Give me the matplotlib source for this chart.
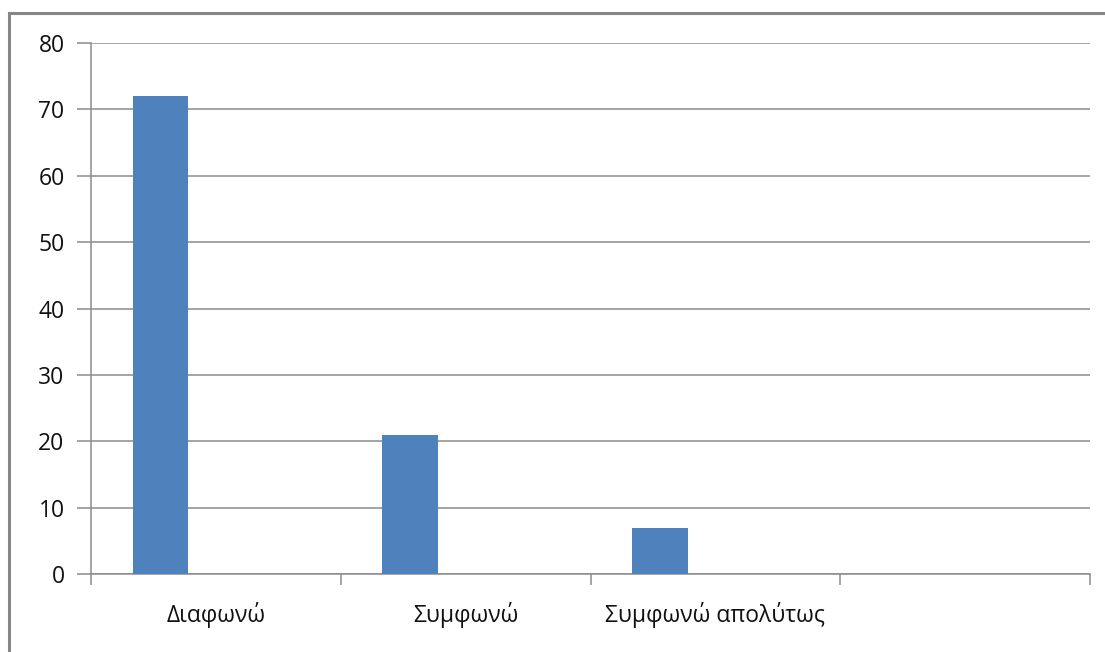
import matplotlib
matplotlib.use("Agg")
import matplotlib.pyplot as plt
import numpy as np
from matplotlib.patches import Rectangle

categories = ["Διαφωνώ", "Συμφωνώ", "Συμφωνώ απολύτως", ""]
values = [72, 21, 7, 0]
yticks = [0, 10, 20, 30, 40, 50, 60, 70, 80]

W, H, DPI = 1105, 652, 100
fig = plt.figure(figsize=(W / DPI, H / DPI), dpi=DPI)
plt.rcParams['font.family'] = ['Open Sans', 'DejaVu Sans']

ax = fig.add_axes([91 / W, 1 - 574 / H, (1090 - 91) / W, (574 - 43) / H])

n_series = 3
bw = 1 / (n_series + 1.5)
x = np.arange(len(categories))
ax.bar(x - bw, values, width=bw, color="#4F81BD", linewidth=0, zorder=3)

grid_c = "#8C8C8C"
txt_c = "#111111"
fs = 16.5
ax.set_xlim(-0.5, len(categories) - 0.5)
ax.set_ylim(0, 80)
ax.set_yticks(yticks)
ax.yaxis.grid(True, color=grid_c, linewidth=1.1, zorder=0)
ax.set_axisbelow(True)

ax.set_xticks(x)
ax.set_xticklabels(categories, fontsize=fs, color=txt_c)
ax.set_xticks(np.arange(-0.5, len(categories), 1.0), minor=True)
ax.tick_params(axis="x", which="major", length=0, pad=20)
ax.tick_params(axis="x", which="minor", length=8, color=grid_c, width=1.1)
ax.tick_params(axis="y", length=10, color=grid_c, width=1.1, labelsize=fs,
               labelcolor=txt_c, pad=9)

for s in ["top", "right"]:
    ax.spines[s].set_visible(False)
for s in ["left", "bottom"]:
    ax.spines[s].set_color(grid_c)
    ax.spines[s].set_linewidth(1.1)

fig.patches.append(Rectangle((9 / W, -0.1), 1.2, 1 - 13 / H + 0.1,
                             transform=fig.transFigure, fill=False,
                             edgecolor="#878787", linewidth=2.2))

fig.savefig("out.png", dpi=DPI)
